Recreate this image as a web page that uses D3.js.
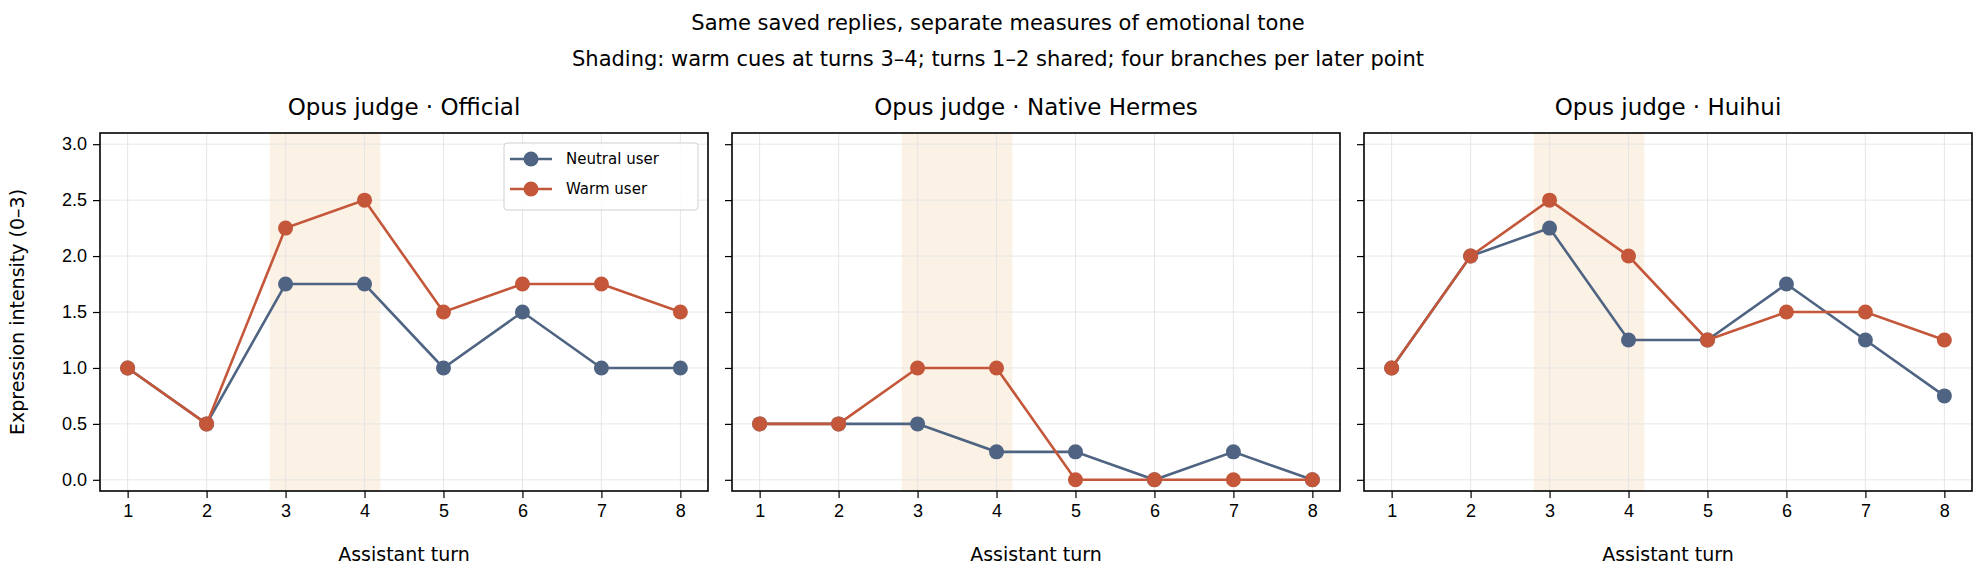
<!DOCTYPE html>
<html><head><meta charset="utf-8">
<script src="https://cdn.jsdelivr.net/npm/d3@7"></script>
<style>body{margin:0;background:#fff}svg{display:block;font-family:"DejaVu Sans",sans-serif}</style>
</head><body><div id="chart"></div>
<script>
// data
const turns = [1,2,3,4,5,6,7,8];
const panelTitles = ["Opus judge · Official","Opus judge · Native Hermes","Opus judge · Huihui"];
const neutralVals = [
  [1,0.5,1.75,1.75,1,1.5,1,1],
  [0.5,0.5,0.5,0.25,0.25,0,0.25,0],
  [1,2,2.25,1.25,1.25,1.75,1.25,0.75]
];
const warmVals = [
  [1,0.5,2.25,2.5,1.5,1.75,1.75,1.5],
  [0.5,0.5,1,1,0,0,0,0],
  [1,2,2.5,2,1.25,1.5,1.5,1.25]
];
const yTicks = [0,0.5,1,1.5,2,2.5,3];
const shadeRange = [2.8,4.2];
const seriesNames = ["Neutral user","Warm user"];
const colors = {neutral:"#4f6482", warm:"#c4573a"};

const W = 1980, H = 576;
const panelLefts = [100,732,1364], panelW = 608, plotTop = 133, plotBottom = 491;

const svg = d3.select("#chart").append("svg").attr("width",W).attr("height",H);

svg.append("text").attr("x",W/2+8).attr("y",30).attr("text-anchor","middle").attr("font-size",21)
  .text("Same saved replies, separate measures of emotional tone");
svg.append("text").attr("x",W/2+8).attr("y",66).attr("text-anchor","middle").attr("font-size",21)
  .text("Shading: warm cues at turns 3–4; turns 1–2 shared; four branches per later point");

const y = d3.scaleLinear().domain([-0.1,3.1]).range([plotBottom,plotTop]);

panelLefts.forEach((left,i)=>{
  const x = d3.scaleLinear().domain([0.65,8.35]).range([left,left+panelW]);
  const g = svg.append("g");

  g.append("rect").attr("x",x(shadeRange[0])).attr("y",plotTop)
    .attr("width",x(shadeRange[1])-x(shadeRange[0])).attr("height",plotBottom-plotTop)
    .attr("fill","#f5dcbc").attr("opacity",0.4);

  // grid
  g.selectAll(".gx").data(turns).join("line")
    .attr("x1",d=>x(d)).attr("x2",d=>x(d)).attr("y1",plotTop).attr("y2",plotBottom)
    .attr("stroke","#e6e6e6").attr("stroke-width",1);
  g.selectAll(".gy").data(yTicks).join("line")
    .attr("x1",left).attr("x2",left+panelW).attr("y1",d=>y(d)).attr("y2",d=>y(d))
    .attr("stroke","#e6e6e6").attr("stroke-width",1);

  const xAxis = g.append("g").attr("transform",`translate(0,${plotBottom})`)
    .call(d3.axisBottom(x).tickValues(turns).tickSize(7).tickPadding(6));
  xAxis.select(".domain").remove();
  xAxis.selectAll("text").attr("font-size",18).attr("fill","#000");
  xAxis.selectAll("line").attr("stroke","#000").attr("stroke-width",1.2);

  const yAxis = g.append("g").attr("transform",`translate(${left},0)`)
    .call(d3.axisLeft(y).tickValues(yTicks).tickSize(7).tickPadding(6).tickFormat(i===0?d3.format(".1f"):""));
  yAxis.select(".domain").remove();
  yAxis.selectAll("text").attr("font-size",18).attr("fill","#000");
  yAxis.selectAll("line").attr("stroke","#000").attr("stroke-width",1.2);

  const line = d3.line().x((d,j)=>x(turns[j])).y(d=>y(d));
  [[neutralVals[i],colors.neutral],[warmVals[i],colors.warm]].forEach(([vals,c])=>{
    g.append("path").datum(vals).attr("d",line).attr("fill","none").attr("stroke",c).attr("stroke-width",2.6);
    g.selectAll(null).data(vals).join("circle")
      .attr("cx",(d,j)=>x(turns[j])).attr("cy",d=>y(d)).attr("r",7.5).attr("fill",c);
  });

  g.append("rect").attr("x",left).attr("y",plotTop).attr("width",panelW).attr("height",plotBottom-plotTop)
    .attr("fill","none").attr("stroke","#000").attr("stroke-width",1.6);

  g.append("text").attr("x",left+panelW/2).attr("y",115).attr("text-anchor","middle").attr("font-size",23)
    .text(panelTitles[i]);
  g.append("text").attr("x",left+panelW/2).attr("y",561).attr("text-anchor","middle").attr("font-size",19)
    .text("Assistant turn");

  if(i===0){
    const lg = g.append("g");
    lg.append("rect").attr("x",504).attr("y",143).attr("width",194).attr("height",67).attr("rx",3)
      .attr("fill","#fff").attr("fill-opacity",0.85).attr("stroke","#d0d0d0");
    [colors.neutral,colors.warm].forEach((c,k)=>{
      const yy = 159+k*30;
      lg.append("line").attr("x1",510).attr("x2",552).attr("y1",yy).attr("y2",yy).attr("stroke",c).attr("stroke-width",2.6);
      lg.append("circle").attr("cx",531).attr("cy",yy).attr("r",7.5).attr("fill",c);
      lg.append("text").attr("x",566).attr("y",yy+5).attr("font-size",15).text(seriesNames[k]);
    });
  }
});

svg.append("text").attr("transform",`translate(24,${(plotTop+plotBottom)/2}) rotate(-90)`)
  .attr("text-anchor","middle").attr("font-size",19).text("Expression intensity (0–3)");
</script></body></html>
